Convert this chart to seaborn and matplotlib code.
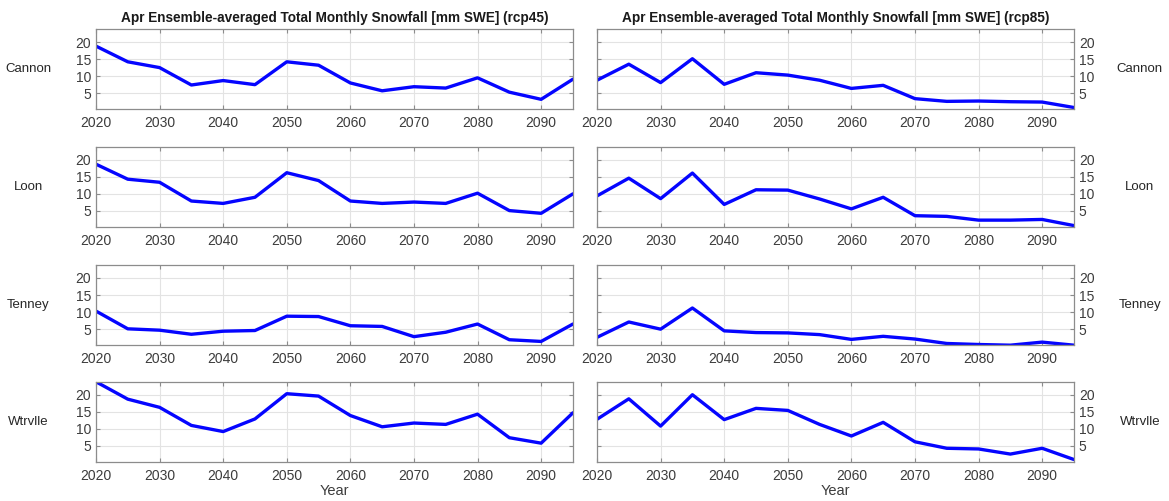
import numpy as np
import pandas as pd
import seaborn as sns
import matplotlib
matplotlib.use("Agg")
import matplotlib.pyplot as plt

# data
years = [2020, 2025, 2030, 2035, 2040, 2045, 2050, 2055,
         2060, 2065, 2070, 2075, 2080, 2085, 2090, 2095]
sites = ["Cannon", "Loon", "Tenney", "Wtrvlle"]
scenarios = ["rcp45", "rcp85"]

cannon_rcp45 = [18.8, 14.2, 12.5, 7.4, 8.7, 7.5, 14.2, 13.2, 8.0, 5.7, 6.9, 6.5, 9.5, 5.3, 3.2, 9.1]
cannon_rcp85 = [8.8, 13.5, 8.1, 15.1, 7.6, 11.0, 10.3, 8.8, 6.4, 7.3, 3.4, 2.6, 2.7, 2.5, 2.4, 0.8]
loon_rcp45 = [18.7, 14.3, 13.4, 7.9, 7.2, 9.0, 16.2, 13.9, 7.9, 7.2, 7.6, 7.2, 10.2, 5.1, 4.3, 10.0]
loon_rcp85 = [9.4, 14.6, 8.6, 16.1, 6.9, 11.2, 11.1, 8.5, 5.6, 9.0, 3.6, 3.4, 2.3, 2.3, 2.5, 0.7]
tenney_rcp45 = [10.3, 5.1, 4.7, 3.5, 4.4, 4.6, 8.8, 8.7, 6.0, 5.8, 2.8, 4.1, 6.5, 1.9, 1.4, 6.5]
tenney_rcp85 = [2.6, 7.1, 5.0, 11.2, 4.5, 4.0, 3.9, 3.4, 2.0, 2.9, 2.1, 0.8, 0.5, 0.3, 1.2, 0.3]
wtrvlle_rcp45 = [23.8, 18.7, 16.3, 11.0, 9.2, 12.9, 20.3, 19.6, 13.9, 10.6, 11.7, 11.3, 14.3, 7.4, 5.8, 14.7]
wtrvlle_rcp85 = [12.8, 18.8, 10.8, 20.0, 12.7, 16.0, 15.4, 11.3, 7.9, 11.9, 6.2, 4.3, 4.1, 2.6, 4.3, 1.0]

series = {
    ("Cannon", "rcp45"): cannon_rcp45, ("Cannon", "rcp85"): cannon_rcp85,
    ("Loon", "rcp45"): loon_rcp45, ("Loon", "rcp85"): loon_rcp85,
    ("Tenney", "rcp45"): tenney_rcp45, ("Tenney", "rcp85"): tenney_rcp85,
    ("Wtrvlle", "rcp45"): wtrvlle_rcp45, ("Wtrvlle", "rcp85"): wtrvlle_rcp85,
}

rows = []
for (site, scen), vals in series.items():
    for y, v in zip(years, vals):
        rows.append({"site": site, "scenario": scen, "year": y, "snow": v})
df = pd.DataFrame(rows)

sns.set_style("white")
plt.rcParams["font.family"] = ["Liberation Sans", "DejaVu Sans"]

fig = plt.figure(figsize=(11.69, 5.01), dpi=100)

col_left = [0.0821, 0.5107]
col_width = 0.408
row_bottom = [0.782, 0.547, 0.311, 0.078]
row_height = 0.160

ymin = df["snow"].min()
ymax = df["snow"].max()
edge = "#8c8c8c"
tick_col = "#3c3c3c"

for r, site in enumerate(sites):
    for c, scen in enumerate(scenarios):
        ax = fig.add_axes([col_left[c], row_bottom[r], col_width, row_height])
        sub = df[(df["site"] == site) & (df["scenario"] == scen)]
        sns.lineplot(data=sub, x="year", y="snow", ax=ax, color="#0505ff", linewidth=2.4)
        ax.set_xlim(2020, 2095)
        ax.set_ylim(ymin, ymax)
        ax.set_xticks(np.arange(2020, 2100, 10))
        ax.set_yticks([5, 10, 15, 20])
        ax.grid(True, color="#e3e3e3", linewidth=0.8)
        for s in ax.spines.values():
            s.set_color(edge)
            s.set_linewidth(0.9)
        ax.tick_params(direction="in", length=3, colors=edge, labelcolor=tick_col,
                       labelsize=10, top=True, right=True, bottom=True, left=True)
        ax.tick_params(axis="x", pad=5)
        ax.set_ylabel("")
        if r == 3:
            ax.set_xlabel("Year", fontsize=10.5, color=tick_col, labelpad=1)
        else:
            ax.set_xlabel("")
        if c == 1:
            ax.yaxis.tick_right()
            ax.tick_params(axis="y", left=True, right=True, direction="in")
        if r == 0:
            ax.set_title(f"Apr Ensemble-averaged Total Monthly Snowfall [mm SWE] ({scen})",
                         fontsize=9.8, fontweight="bold", color="#1a1a1a", pad=5)
        ymid = row_bottom[r] + row_height / 2
        if c == 0:
            fig.text(0.024, ymid, site, fontsize=9.5, color="#262626", va="center", ha="center")
        else:
            fig.text(0.975, ymid, site, fontsize=9.5, color="#262626", va="center", ha="center")

fig.savefig("out.png", dpi=100, facecolor="white")
